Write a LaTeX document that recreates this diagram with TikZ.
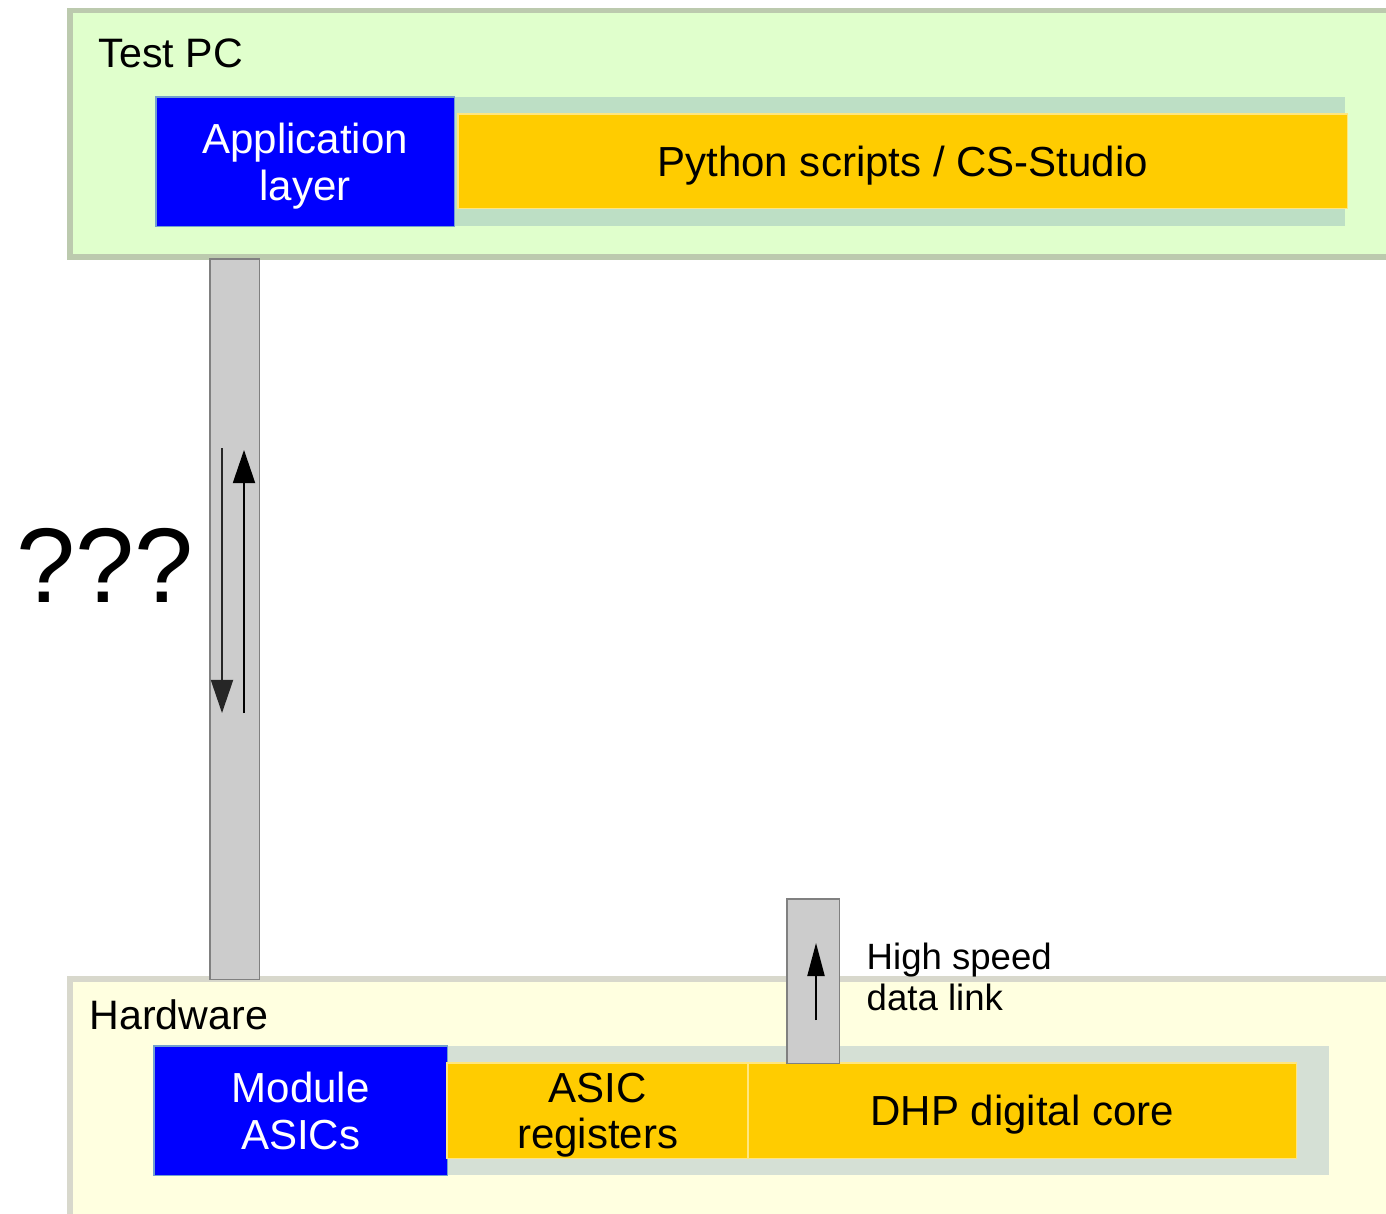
\documentclass[tikz,border=0pt]{standalone}
\usepackage{fontspec}
\setmainfont{Liberation Sans}
\usetikzlibrary{arrows.meta}
\definecolor{testfill}{HTML}{E0FFCC}
\definecolor{testborder}{HTML}{BCCAAE}
\definecolor{bandone}{HTML}{BDDFC5}
\definecolor{bandtwo}{HTML}{D5E0D5}
\definecolor{ylw}{HTML}{FFCC00}
\definecolor{ylwborder}{HTML}{FFE67F}
\definecolor{blu}{HTML}{0000FF}
\definecolor{bluborder}{HTML}{729FCF}
\definecolor{hwfill}{HTML}{FFFFE0}
\definecolor{hwborder}{HTML}{D8D8CC}
\definecolor{barfill}{HTML}{CCCCCC}
\definecolor{barborder}{HTML}{808080}
\begin{document}
\begin{tikzpicture}[x=0.01cm,y=-0.01cm,
  box/.style={inner sep=0pt, outer sep=0pt, anchor=north west, line width=0.3pt},
  bluebox/.style={box, fill=blu, draw=bluborder, text=white, align=center, text depth=0pt,
    font=\fontsize{11.95}{13.5}\selectfont},
  ylwbox/.style={box, fill=ylw, draw=ylwborder, text=black, align=center, text depth=0pt,
    font=\fontsize{11.95}{13.2}\selectfont},
  bandbox/.style={box},
  barbox/.style={box, fill=barfill, draw=barborder},
  lbl/.style={inner sep=0pt, anchor=base west, font=\fontsize{11.7}{13}\selectfont},
  bigtip/.style={-{Triangle[width=6.3pt,length=9.4pt]}, line width=0.4pt},
  smalltip/.style={-{Triangle[width=4.9pt,length=9.4pt]}, line width=0.4pt}
]
\useasboundingbox (0,0) rectangle (1386,1213);
\fill[white] (0,0) rectangle (1386,1213);
\begin{scope}
\clip (0,0) rectangle (1386,1213);
% Test PC frame
\draw[line width=1.7pt, draw=testborder, fill=testfill] (70,10.5) rectangle (1420,257);
\node[bandbox, fill=bandone, minimum width=8.90cm, minimum height=1.29cm] (pyband) at (454,97) {};
\node[bluebox, minimum width=2.98cm, minimum height=1.29cm] (app) at (156,97) {Application\\layer};
\node[ylwbox, minimum width=8.89cm, minimum height=0.94cm] (py) at (458,114) {Python scripts / CS-Studio};
% Hardware frame
\draw[line width=1.7pt, draw=hwborder, fill=hwfill] (70,979) rectangle (1420,1260);
\node[bandbox, fill=bandtwo, minimum width=8.81cm, minimum height=1.29cm] (hwband) at (447,1046) {};
\node[bluebox, minimum width=2.93cm, minimum height=1.29cm] (mod) at (154,1046) {Module\\ASICs};
\node[ylwbox, minimum width=3.01cm, minimum height=0.95cm] (reg) at (447,1063) {ASIC\\registers};
\node[ylwbox, minimum width=5.48cm, minimum height=0.95cm] (dhp) at (748,1063) {DHP digital core};
% bars
\node[barbox, minimum width=0.49cm, minimum height=7.20cm] (bigbar) at (210,259) {};
\node[barbox, minimum width=0.52cm, minimum height=1.64cm] (smallbar) at (787,899) {};
% arrows
\coordinate (d1) at (222,448);
\coordinate (d2) at (222,713);
\coordinate (u1) at (244,713);
\coordinate (u2) at (244,450);
\coordinate (s1) at (816,1020);
\coordinate (s2) at (816,943);
\draw[bigtip, draw=black!85] (d1) -- (d2);
\draw[bigtip] (u1) -- (u2);
\draw[smalltip] (s1) -- (s2);
% labels
\node[lbl] (testpc) at (98,68) {Test PC};
\node[lbl] (hw) at (89,1029) {Hardware};
\node[inner sep=0pt, anchor=base west, font=\fontsize{30.2}{32}\selectfont] (qqq) at (16,602) {???};
\node[inner sep=0pt, anchor=base west, font=\fontsize{10.4}{11.7}\selectfont] (hs1) at (866,969) {High speed};
\node[inner sep=0pt, anchor=base west, font=\fontsize{10.4}{11.7}\selectfont] (hs2) at (866,1010) {data link};
\end{scope}
\end{tikzpicture}
\end{document}
